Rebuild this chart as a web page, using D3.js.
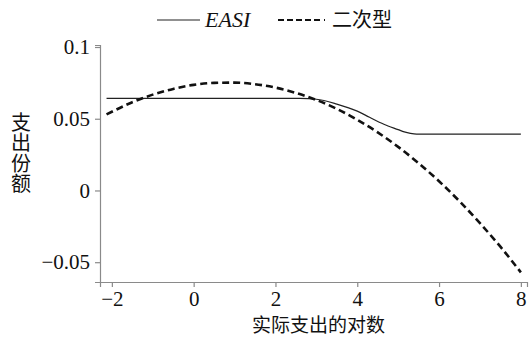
<!DOCTYPE html>
<html><head><meta charset="utf-8">
<script src="https://cdn.jsdelivr.net/npm/d3@7"></script>
<style>
body{margin:0;background:#fff}svg{display:block}
svg text.sf{font-family:"Liberation Serif","Times New Roman",Times !important}
svg text.cj{font-family:"Noto Sans CJK SC" !important}
</style>
</head><body>
<svg id="c" width="529" height="338"></svg>
<script>
// Data
const easiX = [-2.13, 2.6, 3.0, 3.5, 4.0, 4.3, 4.65, 5.0, 5.15, 5.3, 5.45, 8.0];
const easiY = [0.0642, 0.0642, 0.0636, 0.0602, 0.0553, 0.0510, 0.0462, 0.0424, 0.0408, 0.0398, 0.0393, 0.0393];
const quadX = [-2.13, -1.5, -1, -0.5, 0, 0.5, 1, 1.5, 2, 2.5, 3, 3.5, 4, 4.5, 5, 5.5, 6, 6.5, 7, 7.5, 8];
const quadY = [0.053, 0.0615, 0.0668, 0.0708, 0.0736, 0.0750, 0.0752, 0.0741, 0.0717, 0.0680, 0.0631, 0.0569, 0.0493, 0.0405, 0.0304, 0.0190, 0.0064, -0.0075, -0.0228, -0.0392, -0.0571];
const xTicks = [-2, 0, 2, 4, 6, 8];
const yTicks = [-0.05, 0, 0.05, 0.1];
// "EASI", "二次型"
const seriesNames = ["EASI", "\u4e8c\u6b21\u578b"];
// "实际支出的对数"
const xTitle = "\u5b9e\u9645\u652f\u51fa\u7684\u5bf9\u6570";
// "支出份额"
const yTitle = "\u652f\u51fa\u4efd\u989d";

const SERIF = '"Liberation Serif"';
const CJK = '"Noto Sans CJK SC"';

const cv = document.createElement("canvas").getContext("2d");
["21px", "italic 22px"].forEach(f => { cv.font = `${f} ${SERIF}`; cv.measureText("EASI 0.05 2468"); });

const svg = d3.select("#c");
const mLeft = 100, mRight = 527, mTop = 45, mBottom = 282;
const x = d3.scaleLinear().domain([-2.29, 8.15]).range([mLeft, mRight]);
const y = d3.scaleLinear().domain([-0.0638, 0.1014]).range([mBottom, mTop]);

// axes
const xAxis = svg.append("g").attr("transform", `translate(0,${mBottom})`)
  .call(d3.axisBottom(x).tickValues(xTicks).tickSize(5).tickPadding(4).tickFormat(d3.format("d")));
const yAxis = svg.append("g").attr("transform", `translate(${mLeft},0)`)
  .call(d3.axisLeft(y).tickValues(yTicks).tickSize(5).tickPadding(5).tickFormat(d => d === 0 ? "0" : d3.format("")(d)));
[xAxis, yAxis].forEach(g => {
  g.attr("font-family", SERIF).attr("font-size", 21);
  g.select(".domain").attr("stroke", "#8a8a8a").attr("stroke-width", 1.2);
  g.selectAll(".tick line").attr("stroke", "#8a8a8a").attr("stroke-width", 1.2);
  g.selectAll(".tick text").attr("class", "sf")
    .style("font-family", SERIF).style("font-size", "21px").attr("fill", "#111");
});

// lines
const easiData = easiX.map((v, i) => [v, easiY[i]]);
const quadData = quadX.map((v, i) => [v, quadY[i]]);
const line = d3.line().x(d => x(d[0])).y(d => y(d[1])).curve(d3.curveMonotoneX);
svg.append("path").datum(easiData).attr("d", line).attr("fill", "none")
  .attr("stroke", "#222").attr("stroke-width", 1.2);
svg.append("path").datum(quadData).attr("d", line).attr("fill", "none")
  .attr("stroke", "#111").attr("stroke-width", 2.6).attr("stroke-dasharray", "7,4");

// legend
svg.append("line").attr("x1", 157).attr("x2", 200).attr("y1", 20).attr("y2", 20)
  .attr("stroke", "#222").attr("stroke-width", 1.2);
svg.append("text").attr("class", "sf").attr("x", 205).attr("y", 27)
  .style("font-family", SERIF).style("font-style", "italic").style("font-size", "22px")
  .attr("fill", "#111").text(seriesNames[0]);
svg.append("line").attr("x1", 278).attr("x2", 325).attr("y1", 20).attr("y2", 20)
  .attr("stroke", "#111").attr("stroke-width", 2).attr("stroke-dasharray", "6,3,6,3,6,3,6,3,6,4,2,10");
svg.append("text").attr("class", "cj").attr("x", 332).attr("y", 27).style("font-family", CJK)
  .style("font-size", "20px").attr("fill", "#111").text(seriesNames[1]);

// titles
svg.append("text").attr("class", "cj").attr("x", (mLeft + mRight) / 2 + 5).attr("y", 332)
  .attr("text-anchor", "middle")
  .style("font-family", CJK).style("font-size", "19px").attr("fill", "#111").text(xTitle);
svg.append("text").attr("class", "cj").style("font-family", CJK).style("font-size", "20px").attr("fill", "#111")
  .attr("x", 21).attr("y", 112)
  .style("writing-mode", "vertical-rl").style("letter-spacing", "0.5px")
  .text(yTitle);
</script>
</body></html>
